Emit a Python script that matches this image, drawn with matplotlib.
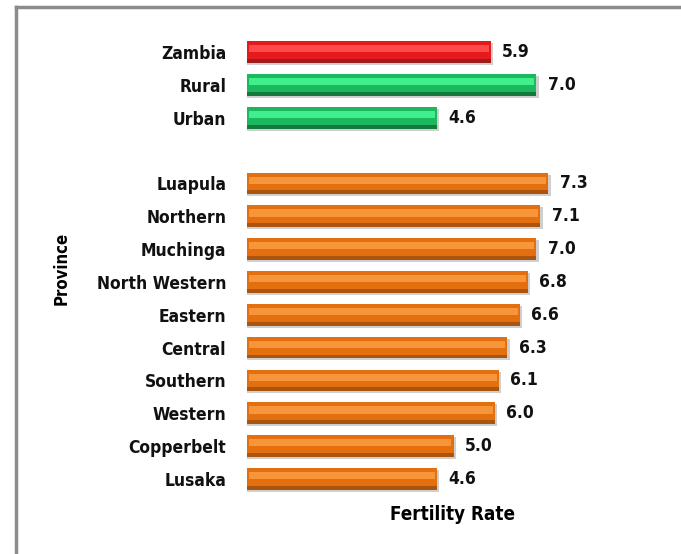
import numpy as np
import matplotlib.pyplot as plt
from matplotlib.lines import Line2D

# ****** Data ****** #
labels = ['Zambia', 'Rural', 'Urban', 'Luapula', 'Northern', 'Muchinga', 'North Western',
          'Eastern', 'Central', 'Southern', 'Western', 'Copperbelt', 'Lusaka']
values = [5.9, 7.0, 4.6, 7.3, 7.1, 7.0, 6.8, 6.6, 6.3, 6.1, 6.0, 5.0, 4.6]
groups = ['total', 'area', 'area'] + ['province'] * 10
slots = [0, 1, 2, 4, 5, 6, 7, 8, 9, 10, 11, 12, 13]   # one empty slot after Urban

base_col = {'total': '#e41a1c', 'area': '#1cb85e', 'province': '#e46f0f'}
light_col = {'total': '#ff4a4a', 'area': '#40ee8e', 'province': '#f6953a'}
dark_col = {'total': '#a01c1c', 'area': '#137a3e', 'province': '#a9540f'}

font = 'DejaVu Sans'
stretch = 'condensed'

fig = plt.figure(figsize=(6.81, 5.54), dpi=100)
ax = fig.add_axes([247 / 681, 0.1058, 413 / 681, 0.8299])

h = 0.66
for s, v, g in zip(slots, values, groups):
    # shadow
    ax.barh(s + 0.06, v + 0.06, height=h, color='#cfcfcf', zorder=1)
    # main bar
    ax.barh(s, v, height=h, color=base_col[g], zorder=2)
    # dark lower bevel
    ax.barh(s + h / 2 - 0.06, v, height=0.12, color=dark_col[g], zorder=3)
    # light upper highlight
    ax.barh(s - 0.1, v - 0.1, height=0.22, left=0.05, color=light_col[g], zorder=3)
    # value label
    ax.text(v + 0.28, s, f'{v:.1f}', va='center', ha='left', fontsize=12.5,
            fontweight='bold', family=font, fontstretch=stretch, color='#111111')

ax.set_xlim(0, 10)
ax.set_ylim(13.5, -0.5)
ax.set_yticks(slots)
ax.set_yticklabels(labels, fontsize=12.5, fontweight='bold', family=font,
                   fontstretch=stretch, color='#111111')
ax.tick_params(axis='y', length=0, pad=15)
ax.set_xticks([])
for sp in ax.spines.values():
    sp.set_visible(False)

fig.text(453 / 681, 1 - 515 / 554, 'Fertility Rate', ha='center', va='center',
         fontsize=13.5, fontweight='bold', family=font, fontstretch=stretch)
fig.text(62 / 681, 1 - 268 / 554, 'Province', ha='center', va='center', rotation=90,
         fontsize=12, fontweight='bold', family=font, fontstretch=stretch)

# grey frame (left and top)
fig.add_artist(Line2D([15.5 / 681, 15.5 / 681], [0, 1 - 6.5 / 554], color='#8c8c8c', lw=2.5,
                      transform=fig.transFigure))
fig.add_artist(Line2D([15.5 / 681, 1], [1 - 6.5 / 554, 1 - 6.5 / 554], color='#8c8c8c', lw=2.5,
                      transform=fig.transFigure))

plt.savefig('out.png', dpi=100)
